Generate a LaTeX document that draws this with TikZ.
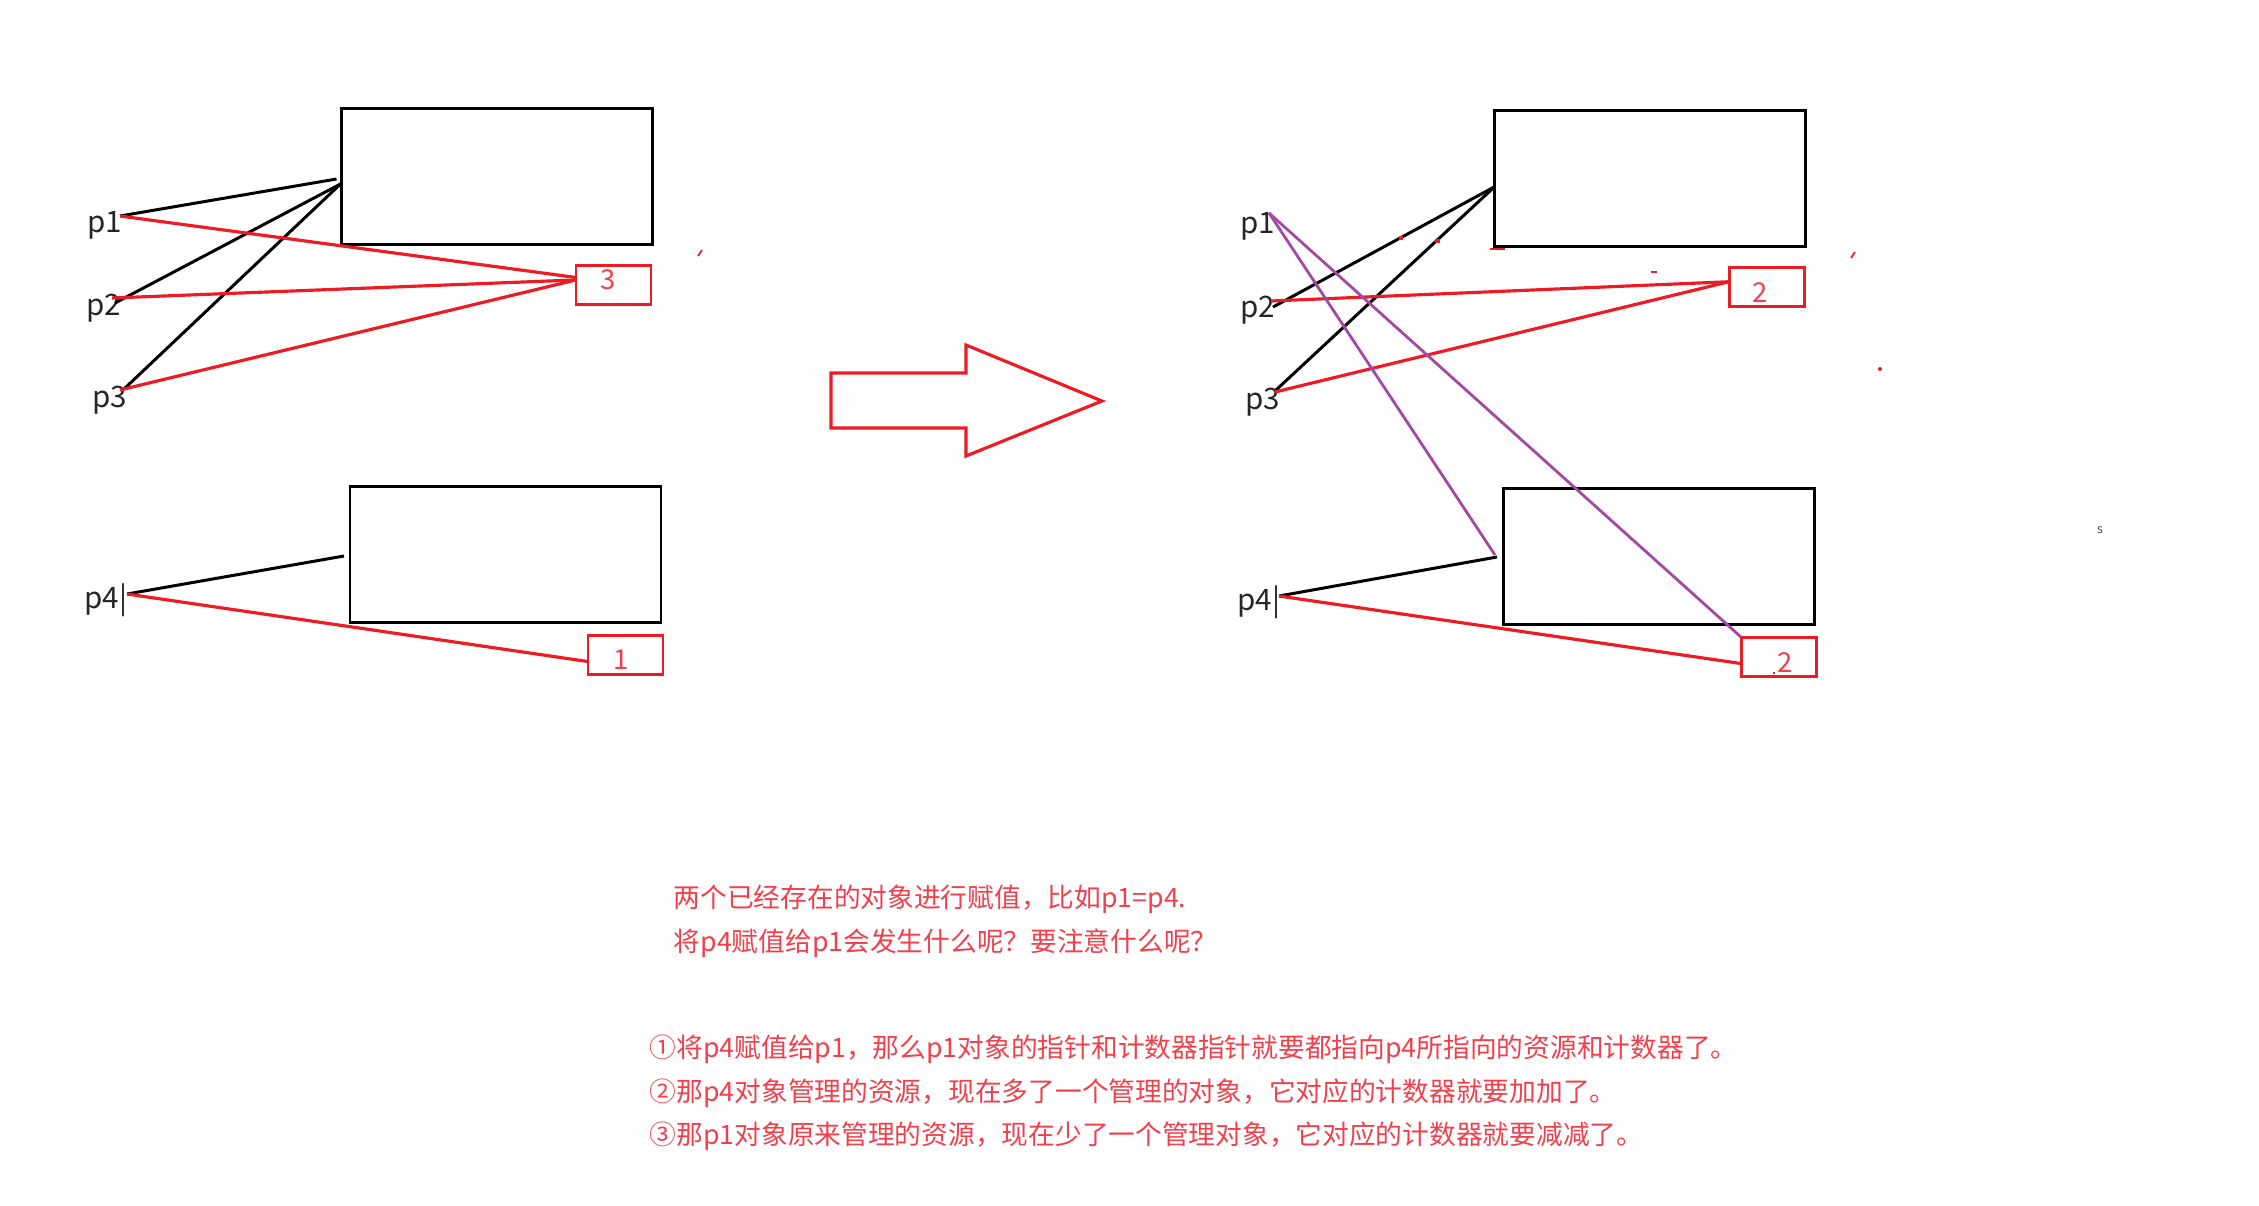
\documentclass[tikz,border=0pt]{standalone}
\usepackage{fontspec}
\setmainfont{Noto Sans CJK SC}
\definecolor{penred}{HTML}{ED1C24}
\definecolor{penpurple}{HTML}{A349A4}
\definecolor{notered}{HTML}{F0404C}
\newlength{\unit}
\setlength{\unit}{0.01cm}
\tikzstyle{res} = [rectangle, draw=black, line width=0.85pt, minimum width=311\unit, minimum height=136\unit, outer sep=0pt, inner sep=0pt]
\tikzstyle{cnt} = [rectangle, draw=penred, line width=0.85pt, minimum width=75\unit, minimum height=39\unit, outer sep=0pt, inner sep=0pt]
\tikzstyle{ptr} = [text=black!85, font=\fontsize{8.4pt}{10pt}\selectfont, inner sep=0pt]
\tikzstyle{num} = [text=notered, font=\fontsize{7.8pt}{9pt}\selectfont, inner sep=0pt]
\tikzstyle{note} = [text=notered, font=\fontsize{7.6pt}{9pt}\selectfont, anchor=west, inner sep=0pt]
\tikzstyle{black line} = [line width=0.85pt, draw=black]
\tikzstyle{red line} = [line width=0.9pt, draw=penred]
\tikzstyle{purple line} = [line width=0.8pt, draw=penpurple]
\tikzstyle{speck} = [line width=0.5pt, draw=penred]
\begin{document}
\begin{tikzpicture}[x=0.01cm, y=-0.01cm]
	\useasboundingbox (0,0) rectangle (2259,1205);
	% left side
	\node (res1) [res] at (497,176) {};
	\node (res2) [res] at (505.5,554) {};
	\node (cnt3) [cnt] at (613.5,284.5) {};
	\node (cnt1) [cnt] at (625.5,654.5) {};
	\node (three) [num] at (608,280) {3};
	\node (one) [num] at (621,660) {1};
	\node (p1) [ptr] at (105,225) {p1};
	\node (p2) [ptr] at (104,308) {p2};
	\node (p3) [ptr] at (110,400) {p3};
	\node (p4) [ptr] at (106,600) {p4|};
	\coordinate (p1tip) at (120,216);
	\coordinate (p2tip) at (115,303);
	\coordinate (p2red) at (112,298);
	\coordinate (p3tip) at (124,389);
	\coordinate (p3red) at (120,390);
	\coordinate (p4tip) at (127,594);
	\draw [black line] (p1tip) -- ([shift={(-5,3)}]res1.west);
	\draw [black line] (p2tip) -- ([shift={(-1,8)}]res1.west);
	\draw [black line] (p3tip) -- ([shift={(-1,8)}]res1.west);
	\draw [black line] (p4tip) -- ([shift={(-6,2)}]res2.west);
	\draw [red line] (p1tip) -- ([yshift=2pt]cnt3.west);
	\draw [red line] (p2red) -- ([yshift=1.3pt]cnt3.west);
	\draw [red line] (p3red) -- ([yshift=1.3pt]cnt3.west);
	\draw [red line] (p4tip) -- ([yshift=-2pt]cnt1.west);
	% big arrow
	\draw [red line, line join=miter] (831,373) -- (966,373) -- (966,345) -- (1102,401) -- (966,456) -- (966,428) -- (831,428) -- cycle;
	% right side
	\node (res3) [res] at (1650,178) {};
	\node (res4) [res] at (1658.5,556) {};
	\node (cnt2) [cnt] at (1766.5,287) {};
	\node (cnt4) [cnt] at (1778.5,656.5) {};
	\node (two) [num] at (1760,293) {2};
	\node (twob) [num] at (1785,663) {2};
	\node (q1) [ptr] at (1258,226) {p1};
	\node (q2) [ptr] at (1258,310) {p2};
	\node (q3) [ptr] at (1263,402) {p3};
	\node (q4) [ptr] at (1259,602) {p4|};
	\coordinate (q1tip) at (1269,213);
	\coordinate (q2tip) at (1273,307);
	\coordinate (q2red) at (1271,301);
	\coordinate (q3tip) at (1276,390);
	\coordinate (q3red) at (1275,392);
	\coordinate (q4tip) at (1279,596);
	\coordinate (q1end) at (1495,555);
	\draw [black line] (q2tip) -- ([yshift=-2.5pt]res3.west);
	\draw [black line] (q3tip) -- ([yshift=-2.5pt]res3.west);
	\draw [black line] (q4tip) -- ([shift={(-6,1)}]res4.west);
	\draw [red line] (q2red) -- ([yshift=1.5pt]cnt2.west);
	\draw [red line] (q3red) -- ([yshift=1.5pt]cnt2.west);
	\draw [red line] (q4tip) -- ([yshift=-2pt]cnt4.west);
	\draw [purple line] (q1tip) -- (q1end);
	\draw [purple line] (q1tip) -- (cnt4.north west);
	% stray marks
	\draw [speck] (698,256) -- (702,250);
	\draw [speck] (1851,258) -- (1855,252);
	\draw [speck, line width=1pt] (1399,238) -- (1403,238);
	\draw [speck, line width=1pt] (1435,241) -- (1440,241);
	\draw [speck] (1490,249) -- (1505,249);
	\draw [speck] (1651,272) -- (1657,272);
	\draw [speck] (1773,673) -- (1775,673);
	\fill [penred] (1880,369) circle (2);
	\node (s) [text=black!70, font=\fontsize{3.5pt}{4pt}\selectfont, inner sep=0pt] at (2100,530) {s};
	% text
	\node (q) [note] at (673,899) {两个已经存在的对象进行赋值，比如p1=p4.};
	\node (wh) [note] at (673,943) {将p4赋值给p1会发生什么呢？要注意什么呢？};
	\node (a1) [note] at (649,1049) {①将p4赋值给p1，那么p1对象的指针和计数器指针就要都指向p4所指向的资源和计数器了。};
	\node (a2) [note] at (649,1093) {②那p4对象管理的资源，现在多了一个管理的对象，它对应的计数器就要加加了。};
	\node (a3) [note] at (649,1136) {③那p1对象原来管理的资源，现在少了一个管理对象，它对应的计数器就要减减了。};
\end{tikzpicture}
\end{document}
